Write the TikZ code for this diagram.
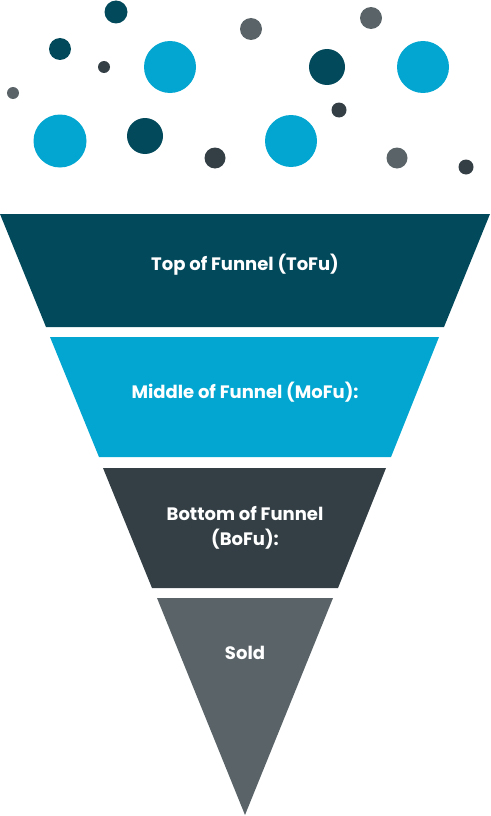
\documentclass[tikz,border=0pt]{standalone}
\usepackage{fontspec}
\setmainfont{Poppins}
\definecolor{tofu}{RGB}{2,73,92}
\definecolor{mofu}{RGB}{2,166,208}
\definecolor{bofu}{RGB}{51,63,69}
\definecolor{sold}{RGB}{90,100,104}
\tikzset{stagetext/.style={text=white, font=\bfseries\fontsize{18}{25}\selectfont, align=center}}
\begin{document}
\begin{tikzpicture}[x=1pt, y=-1pt, line join=round]
				\useasboundingbox (0,0) rectangle (490,816);
				% bubbles above the funnel
				\foreach \x/\y/\r/\c in {116/12/11.5/tofu, 60/49/11/tofu, 104/67/6/bofu, 13/93/6/sold,
					170/67/26/mofu, 251/29/11/sold, 371/18/11/sold, 327/67/18/tofu, 423/67/26/mofu,
					339/110/7.5/bofu, 60/141/26.5/mofu, 145/136/18/tofu, 215/158/10.5/bofu,
					291/141/26/mofu, 397/158/10.5/sold, 466/167/7.5/bofu}
				\fill[\c] (\x,\y) circle(\r);
				% funnel stages
				\path (0,214) coordinate (T_1) (490,214) coordinate (T_2)
				(46,327) coordinate (T_3) (444,327) coordinate (T_4)
				(50,337) coordinate (M_1) (439,337) coordinate (M_2)
				(99,457) coordinate (M_3) (391,457) coordinate (M_4)
				(103,468) coordinate (B_1) (386,468) coordinate (B_2)
				(152,588) coordinate (B_3) (338,588) coordinate (B_4)
				(157,598) coordinate (S_1) (333,598) coordinate (S_2)
				(245,815) coordinate (S_3);
				\fill[tofu] (T_1)--(T_2)--(T_4)--(T_3)--cycle;
				\fill[mofu] (M_1)--(M_2)--(M_4)--(M_3)--cycle;
				\fill[bofu] (B_1)--(B_2)--(B_4)--(B_3)--cycle;
				\fill[sold] (S_1)--(S_2)--(S_3)--cycle;
				\node[stagetext] (tofu) at (245,265) {Top of Funnel (ToFu)};
				\node[stagetext] (mofu) at (245,392) {Middle of Funnel (MoFu):};
				\node[stagetext] (bofu) at (245,528) {Bottom of Funnel\\(BoFu):};
				\node[stagetext] (sold) at (245,653) {Sold};
			\end{tikzpicture}
\end{document}
